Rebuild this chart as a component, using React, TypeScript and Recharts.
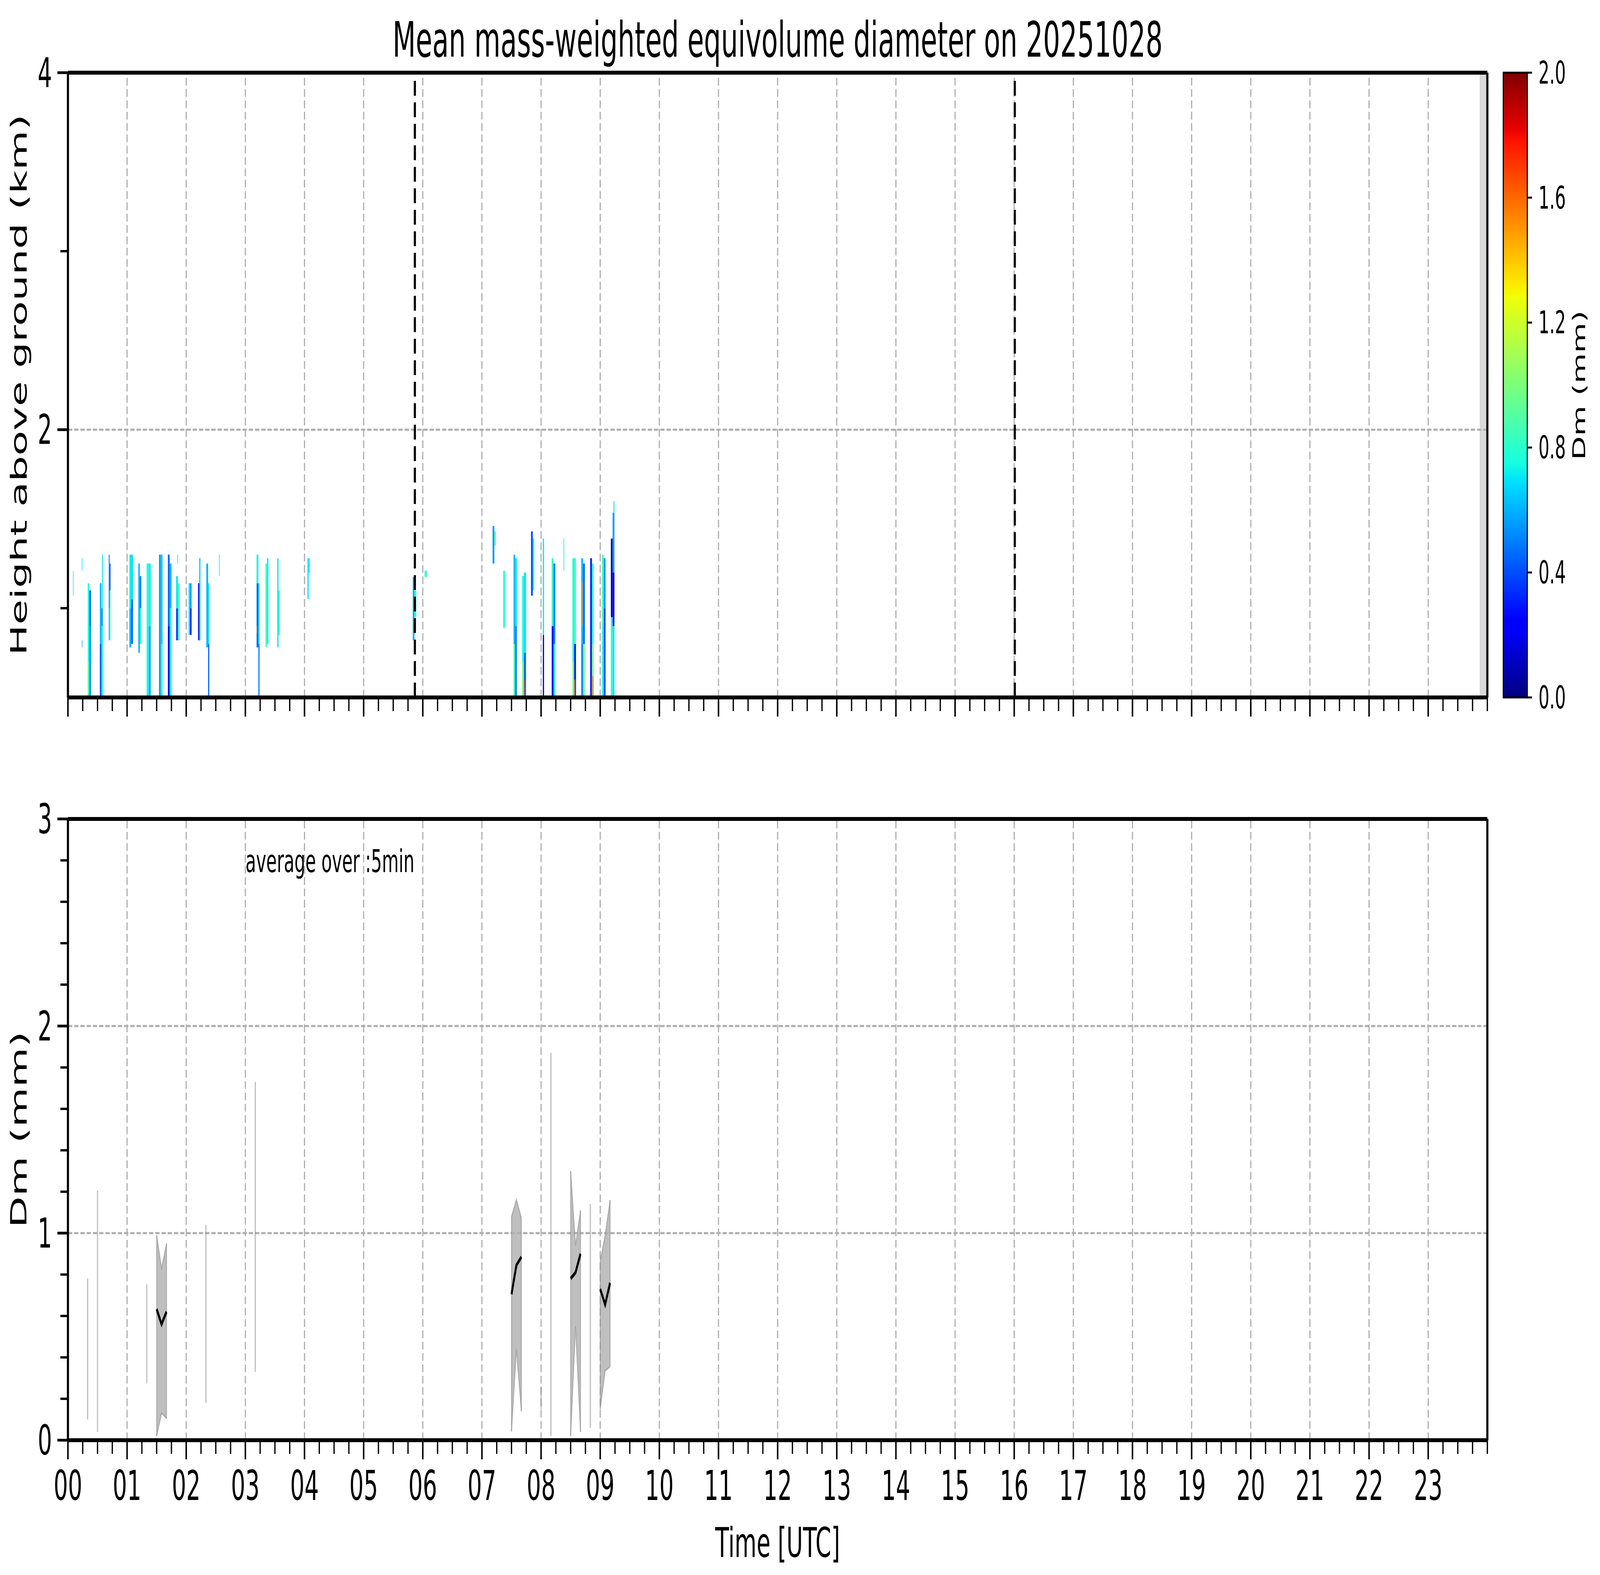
import React from 'react';
import { ComposedChart, XAxis, YAxis, ReferenceArea, ReferenceLine, Line, Area } from 'recharts';

const FONT = '"DejaVu Sans", "Liberation Sans", sans-serif';

// x axis: hours of the day
const HOURS = [0, 1, 2, 3, 4, 5, 6, 7, 8, 9, 10, 11, 12, 13, 14, 15, 16, 17, 18, 19, 20, 21, 22, 23];
const HOUR_LABELS = ['00', '01', '02', '03', '04', '05', '06', '07', '08', '09', '10', '11',
  '12', '13', '14', '15', '16', '17', '18', '19', '20', '21', '22', '23'];
const QUARTER_TICKS = [...HOURS.flatMap(h => [h, h + 0.25, h + 0.5, h + 0.75]), 24];

const HEIGHT_TICKS = [1, 2, 3, 4];
const HEIGHT_MAJOR = [2, 4];
const DM_TICKS = [0, 0.2, 0.4, 0.6, 0.8, 1, 1.2, 1.4, 1.6, 1.8, 2, 2.2, 2.4, 2.6, 2.8, 3];
const DM_MAJOR = [0, 1, 2, 3];
const CBAR_TICKS = [0, 0.4, 0.8, 1.2, 1.6, 2.0];

// event markers (hours) and the missing-data strip at the end of the day
const EVENT_LINES = [5.866, 16.01];
const MISSING_FROM = 23.87;

// heatmap cells: [t0 (h), t1 (h), bottom (km), top (km), Dm (mm)]
type CellRow = [number, number, number, number, number];
const EARLY_CELLS: CellRow[] = [
  [0.085, 0.095, 1.07, 1.21, 0.72],
  [0.235, 0.245, 1.21, 1.28, 0.7],
  [0.235, 0.245, 0.78, 0.82, 0.6],
  [0.335, 0.36, 0.5, 0.7, 0.9],
  [0.335, 0.36, 0.7, 1.14, 0.75],
  [0.36, 0.39, 0.5, 0.9, 0.55],
  [0.36, 0.39, 0.9, 1.1, 0.45],
  [0.54, 0.565, 0.5, 0.8, 0.4],
  [0.54, 0.565, 0.8, 1.14, 0.6],
  [0.565, 0.59, 0.5, 0.9, 0.72],
  [0.565, 0.59, 0.9, 1.0, 0.55],
  [0.575, 0.59, 1.0, 1.3, 0.7],
  [0.69, 0.705, 0.82, 1.0, 0.6],
  [0.69, 0.705, 1.0, 1.3, 0.5],
  [0.705, 0.72, 0.82, 1.1, 0.85],
  [0.705, 0.72, 1.1, 1.25, 0.4],
  [1.04, 1.07, 0.78, 1.0, 0.6],
  [1.04, 1.07, 1.0, 1.3, 0.72],
  [1.07, 1.1, 0.8, 1.05, 0.45],
  [1.07, 1.1, 1.05, 1.3, 0.7],
  [1.19, 1.215, 0.75, 1.25, 0.6],
  [1.215, 1.24, 0.8, 1.0, 0.8],
  [1.215, 1.24, 1.0, 1.18, 0.5],
  [1.33, 1.365, 0.5, 1.25, 0.78],
  [1.365, 1.4, 0.5, 0.9, 0.6],
  [1.365, 1.4, 0.9, 1.25, 0.72],
  [1.54, 1.57, 0.5, 1.3, 0.55],
  [1.57, 1.6, 0.5, 0.8, 0.8],
  [1.57, 1.6, 0.8, 1.3, 0.65],
  [1.69, 1.72, 0.5, 0.9, 0.25],
  [1.69, 1.72, 0.9, 1.3, 0.45],
  [1.72, 1.75, 0.5, 1.0, 0.75],
  [1.72, 1.75, 1.0, 1.25, 0.6],
  [1.83, 1.86, 0.82, 1.0, 0.35],
  [1.83, 1.86, 1.0, 1.18, 0.7],
  [1.86, 1.89, 0.82, 1.14, 0.85],
  [1.85, 1.86, 1.25, 1.3, 0.7],
  [2.04, 2.065, 0.85, 1.14, 0.7],
  [2.065, 2.09, 0.85, 1.0, 0.3],
  [2.065, 2.09, 1.0, 1.14, 0.55],
  [2.2, 2.22, 0.82, 1.14, 0.3],
  [2.22, 2.24, 0.82, 1.28, 0.65],
  [2.34, 2.37, 0.78, 1.25, 0.6],
  [2.37, 2.39, 0.5, 0.8, 0.45],
  [2.37, 2.39, 0.8, 1.14, 0.72],
  [2.555, 2.565, 1.18, 1.3, 0.7],
  [3.19, 3.22, 0.78, 1.14, 0.45],
  [3.19, 3.22, 1.14, 1.3, 0.72],
  [3.195, 3.205, 0.86, 0.9, 1.6],
  [3.22, 3.24, 0.5, 0.8, 0.5],
  [3.22, 3.24, 0.8, 1.14, 0.7],
  [3.34, 3.365, 0.78, 1.25, 0.85],
  [3.365, 3.39, 0.8, 1.28, 0.72],
  [3.54, 3.56, 0.78, 1.28, 0.7],
  [3.56, 3.58, 0.85, 1.1, 0.8],
  [4.05, 4.07, 1.05, 1.28, 0.7],
  [4.07, 4.09, 1.2, 1.28, 0.72],
];

const LATE_CELLS: CellRow[] = [
  [5.83, 5.86, 0.82, 1.175, 0.6],
  [5.86, 5.89, 0.95, 1.1, 0.85],
  [6.03, 6.07, 1.175, 1.21, 0.8],
  [7.18, 7.21, 1.25, 1.46, 0.55],
  [7.21, 7.235, 1.35, 1.43, 0.9],
  [7.36, 7.39, 0.89, 1.21, 0.75],
  [7.535, 7.56, 0.5, 0.8, 0.85],
  [7.535, 7.56, 0.8, 1.3, 0.6],
  [7.56, 7.59, 0.5, 0.9, 0.5],
  [7.56, 7.59, 0.9, 1.28, 0.7],
  [7.68, 7.71, 0.5, 0.7, 1.0],
  [7.68, 7.71, 0.7, 1.18, 0.75],
  [7.71, 7.745, 0.5, 0.75, 0.45],
  [7.71, 7.745, 0.75, 1.2, 0.7],
  [7.72, 7.73, 0.5, 0.6, 1.7],
  [7.83, 7.86, 1.07, 1.43, 0.4],
  [7.86, 7.885, 1.1, 1.39, 0.85],
  [8.03, 8.05, 0.5, 0.85, 0.1],
  [8.03, 8.05, 0.85, 1.39, 0.7],
  [8.18, 8.21, 0.5, 0.9, 0.25],
  [8.18, 8.21, 0.9, 1.28, 0.8],
  [8.21, 8.24, 0.5, 0.8, 0.8],
  [8.21, 8.24, 0.8, 1.25, 0.5],
  [8.38, 8.39, 1.21, 1.39, 0.7],
  [8.53, 8.56, 0.5, 0.7, 1.0],
  [8.53, 8.56, 0.7, 1.28, 0.75],
  [8.56, 8.59, 0.5, 0.8, 0.3],
  [8.56, 8.59, 0.8, 1.28, 0.85],
  [8.565, 8.575, 0.5, 0.6, 1.5],
  [8.68, 8.71, 0.5, 0.8, 0.5],
  [8.68, 8.71, 0.8, 1.28, 0.6],
  [8.695, 8.703, 0.9, 1.15, 1.45],
  [8.71, 8.74, 0.5, 0.8, 1.0],
  [8.71, 8.74, 0.8, 1.25, 0.45],
  [8.83, 8.86, 0.5, 1.28, 0.3],
  [8.86, 8.89, 0.5, 0.8, 1.0],
  [8.86, 8.89, 0.8, 1.25, 0.8],
  [8.87, 8.88, 0.5, 0.62, 1.7],
  [9.03, 9.06, 0.5, 0.9, 0.75],
  [9.03, 9.06, 0.9, 1.3, 0.85],
  [9.06, 9.09, 0.5, 1.0, 0.4],
  [9.06, 9.09, 1.0, 1.28, 0.55],
  [9.18, 9.21, 0.5, 0.95, 0.8],
  [9.18, 9.21, 0.95, 1.39, 0.15],
  [9.21, 9.24, 0.5, 0.9, 0.7],
  [9.21, 9.24, 0.9, 1.2, 0.2],
  [9.21, 9.24, 1.2, 1.535, 0.55],
  [9.225, 9.24, 1.535, 1.6, 0.7],
];

// 5-min averages (bottom panel)
const AVG_TIME = [1.5, 1.583, 1.667, 7.5, 7.583, 7.667, 8.5, 8.583, 8.667, 9.0, 9.083, 9.167];
const AVG_DM = [0.633, 0.56, 0.62, 0.705, 0.845, 0.885, 0.78, 0.81, 0.9, 0.73, 0.655, 0.76];
const MIN_DM = [0.02, 0.13, 0.105, 0.043, 0.437, 0.14, 0.02, 0.55, 0.04, 0.15, 0.335, 0.355];
const MAX_DM = [0.99, 0.83, 0.95, 1.08, 1.162, 1.073, 1.3, 0.94, 1.11, 0.864, 0.99, 1.16];

// isolated 5-min spreads (single samples)
const SPIKE_TIME = [0.333, 0.5, 1.333, 2.333, 3.167, 8.0, 8.167, 8.833];
const SPIKE_MIN = [0.1, 0.04, 0.275, 0.18, 0.33, 0.15, 0.02, 0.06];
const SPIKE_MAX = [0.78, 1.205, 0.753, 1.04, 1.73, 0.26, 1.87, 1.14];

// matplotlib 'jet'
const JET_R = [[0, 0], [0.35, 0], [0.66, 1], [0.89, 1], [1, 0.5]];
const JET_G = [[0, 0], [0.125, 0], [0.375, 1], [0.64, 1], [0.91, 0], [1, 0]];
const JET_B = [[0, 0.5], [0.11, 1], [0.34, 1], [0.65, 0], [1, 0]];
const JET_STOPS = [0, 0.11, 0.125, 0.34, 0.35, 0.375, 0.5, 0.64, 0.65, 0.66, 0.89, 0.91, 1];

function interp(pts: number[][], x: number) {
  for (let i = 1; i < pts.length; i++) {
    if (x <= pts[i][0]) {
      const [x0, y0] = pts[i - 1];
      const [x1, y1] = pts[i];
      return y0 + (y1 - y0) * (x - x0) / (x1 - x0);
    }
  }
  return pts[pts.length - 1][1];
}

function jetAt(f: number) {
  const x = Math.min(1, Math.max(0, f));
  const c = (v: number) => Math.round(v * 255);
  return `rgb(${c(interp(JET_R, x))},${c(interp(JET_G, x))},${c(interp(JET_B, x))})`;
}

const dmColor = (dm: number) => jetAt(dm / 2);

const GRID = '#b0b0b0';
const GRID_DASH = '20 9';
const SPINE = 10;

const PAGE_W = 7442;
const PAGE_H = 4031;
const PLOT_LEFT = 316;
const CHART_W = 7000;
const MARGIN_RIGHT = 82;

if (typeof document !== 'undefined') {
  document.documentElement.style.margin = '0';
  document.documentElement.style.overflow = 'hidden';
  document.body.style.margin = '0';
  document.body.style.overflow = 'hidden';
}

// the figure is laid out at 7442x4031 and stretched onto whatever viewport we get
function fitScale() {
  if (typeof window === 'undefined') return { sx: 1, sy: 1 };
  const w = window.innerWidth || PAGE_W;
  const h = window.innerHeight || PAGE_H;
  return { sx: w / PAGE_W, sy: h / PAGE_H };
}

function TimeTick(props: any) {
  const { x, y, payload, showLabel } = props;
  const v = payload.value;
  const major = Math.abs(v - Math.round(v)) < 1e-6 && v < 24;
  return (
    <g>
      <line x1={x} x2={x} y1={y} y2={y + (major ? 49 : 35)} stroke="#000" strokeWidth={major ? 7 : 6} />
      {showLabel && major && (
        <text x={x} y={y + 153} textAnchor="middle" fontSize={105} fontFamily={FONT} fill="#000">
          {HOUR_LABELS[Math.round(v)]}
        </text>
      )}
    </g>
  );
}

function LeftTick(props: any) {
  const { x, y, payload, majors } = props;
  const v = payload.value;
  const major = majors.some((m: number) => Math.abs(m - v) < 1e-6);
  return (
    <g>
      <line x1={x - (major ? 49 : 35)} x2={x} y1={y} y2={y} stroke="#000" strokeWidth={major ? 7 : 6} />
      {major && (
        <text x={x - 74} y={y} textAnchor="end" dominantBaseline="central" fontSize={105} fontFamily={FONT} fill="#000">
          {v}
        </text>
      )}
    </g>
  );
}

function CbarTick(props: any) {
  const { x, y, payload } = props;
  return (
    <g>
      <line x1={x} x2={x + 22} y1={y} y2={y} stroke="#000" strokeWidth={5} />
      <text x={x + 52} y={y} textAnchor="start" dominantBaseline="central" fontSize={80} fontFamily={FONT} fill="#000">
        {payload.value.toFixed(1)}
      </text>
    </g>
  );
}

function HeightPanel() {
  const cells = [...EARLY_CELLS, ...LATE_CELLS];
  const dummy = [{ t: 0, h: 0.5 }, { t: 24, h: 0.5 }];
  return (
    <div style={{ position: 'absolute', left: 0, top: 0 }}>
      <ComposedChart width={CHART_W} height={1845} data={dummy}
        margin={{ top: 186, right: MARGIN_RIGHT, bottom: 0, left: 0 }}>
        <XAxis dataKey="t" type="number" domain={[0, 24]} ticks={QUARTER_TICKS} interval={0}
          allowDataOverflow height={60} tickSize={0} tickMargin={0} tickLine={false}
          axisLine={{ stroke: '#000', strokeWidth: SPINE }}
          tick={(p: any) => <TimeTick {...p} showLabel={false} />} />
        <YAxis type="number" domain={[0.5, 4]} ticks={HEIGHT_TICKS} interval={0} allowDataOverflow
          width={PLOT_LEFT} tickSize={0} tickMargin={0} tickLine={false}
          axisLine={{ stroke: '#000', strokeWidth: SPINE }}
          tick={(p: any) => <LeftTick {...p} majors={HEIGHT_MAJOR} />} />
        {HOURS.slice(1).map(h => (
          <ReferenceLine key={'g' + h} x={h} stroke={GRID} strokeWidth={5.5} strokeDasharray={GRID_DASH} />
        ))}
        <ReferenceLine y={2} stroke={GRID} strokeWidth={5.5} strokeDasharray={GRID_DASH} />
        {cells.map((c, i) => (
          <ReferenceArea key={'c' + i} x1={c[0]} x2={c[1]} y1={c[2]} y2={c[3]}
            fill={dmColor(c[4])} fillOpacity={1} stroke="none" />
        ))}
        <ReferenceArea x1={MISSING_FROM} x2={24} y1={0.5} y2={4} fill="#d9d9d9" fillOpacity={1} stroke="none" />
        {EVENT_LINES.map(t => (
          <ReferenceLine key={'e' + t} x={t} stroke="#000" strokeWidth={10} strokeDasharray="38 17" />
        ))}
        <Line dataKey="h" stroke="none" dot={false} isAnimationActive={false} />
        <ReferenceLine y={4} stroke="#000" strokeWidth={SPINE} />
        <ReferenceLine x={24} stroke="#000" strokeWidth={SPINE} />
      </ComposedChart>
    </div>
  );
}

function DmPanel() {
  const rows: any[] = [];
  AVG_TIME.forEach((t, i) => {
    if (i > 0 && t - AVG_TIME[i - 1] > 0.1) {
      rows.push({ t: (t + AVG_TIME[i - 1]) / 2, band: null, lo: null, hi: null, dm: null });
    }
    rows.push({ t, band: [MIN_DM[i], MAX_DM[i]], lo: MIN_DM[i], hi: MAX_DM[i], dm: AVG_DM[i] });
  });
  // vertical ends of each averaged block
  const ends: number[] = [];
  AVG_TIME.forEach((t, i) => {
    const first = i === 0 || t - AVG_TIME[i - 1] > 0.1;
    const last = i === AVG_TIME.length - 1 || AVG_TIME[i + 1] - t > 0.1;
    if (first || last) ends.push(i);
  });
  const edge = { stroke: '#808080', strokeOpacity: 0.5 };
  return (
    <div style={{ position: 'absolute', left: 0, top: 1900 }}>
      <ComposedChart width={CHART_W} height={1986} data={rows}
        margin={{ top: 196, right: MARGIN_RIGHT, bottom: 0, left: 0 }}>
        <XAxis dataKey="t" type="number" domain={[0, 24]} ticks={QUARTER_TICKS} interval={0}
          allowDataOverflow height={200} tickSize={0} tickMargin={0} tickLine={false}
          axisLine={{ stroke: '#000', strokeWidth: SPINE }}
          tick={(p: any) => <TimeTick {...p} showLabel />} />
        <YAxis type="number" domain={[0, 3]} ticks={DM_TICKS} interval={0} allowDataOverflow
          width={PLOT_LEFT} tickSize={0} tickMargin={0} tickLine={false}
          axisLine={{ stroke: '#000', strokeWidth: SPINE }}
          tick={(p: any) => <LeftTick {...p} majors={DM_MAJOR} />} />
        {HOURS.slice(1).map(h => (
          <ReferenceLine key={'g' + h} x={h} stroke={GRID} strokeWidth={5.5} strokeDasharray={GRID_DASH} />
        ))}
        <ReferenceLine y={1} stroke={GRID} strokeWidth={5.5} strokeDasharray={GRID_DASH} />
        <ReferenceLine y={2} stroke={GRID} strokeWidth={5.5} strokeDasharray={GRID_DASH} />
        {SPIKE_TIME.map((t, i) => (
          <ReferenceLine key={'s' + i} segment={[{ x: t, y: SPIKE_MIN[i] }, { x: t, y: SPIKE_MAX[i] }]}
            {...edge} strokeWidth={5.5} />
        ))}
        <Area dataKey="band" type="linear" stroke="none" fill="#808080" fillOpacity={0.5}
          connectNulls={false} isAnimationActive={false} />
        <Line dataKey="hi" type="linear" {...edge} strokeWidth={4.5} dot={false} connectNulls={false} isAnimationActive={false} />
        <Line dataKey="lo" type="linear" {...edge} strokeWidth={4.5} dot={false} connectNulls={false} isAnimationActive={false} />
        {ends.map(i => (
          <ReferenceLine key={'v' + i} segment={[{ x: AVG_TIME[i], y: MIN_DM[i] }, { x: AVG_TIME[i], y: MAX_DM[i] }]}
            {...edge} strokeWidth={4.5} />
        ))}
        <Line dataKey="dm" type="linear" stroke="#000" strokeWidth={9} dot={false} connectNulls={false} isAnimationActive={false} />
        <ReferenceLine y={3} stroke="#000" strokeWidth={SPINE} />
        <ReferenceLine x={24} stroke="#000" strokeWidth={SPINE} />
      </ComposedChart>
    </div>
  );
}

function Colorbar() {
  const dummy = [{ x: 0, v: 0 }, { x: 1, v: 2 }];
  return (
    <div style={{ position: 'absolute', left: 6900, top: 0 }}>
      <ComposedChart width={504} height={1885} data={dummy}
        margin={{ top: 186, right: 0, bottom: 100, left: 92 }}>
        <defs>
          <linearGradient id="jetGrad" x1="0" y1="1" x2="0" y2="0">
            {JET_STOPS.map(s => <stop key={s} offset={s} stopColor={jetAt(s)} />)}
          </linearGradient>
        </defs>
        <XAxis dataKey="x" type="number" domain={[0, 1]} hide />
        <YAxis orientation="right" type="number" domain={[0, 2]} ticks={CBAR_TICKS} interval={0}
          width={300} tickSize={0} tickMargin={0} tickLine={false} axisLine={false}
          tick={(p: any) => <CbarTick {...p} />} />
        <ReferenceArea x1={0} x2={1} y1={0} y2={2} fill="url(#jetGrad)" fillOpacity={1}
          stroke="#000" strokeWidth={5} />
        <Line dataKey="v" stroke="none" dot={false} isAnimationActive={false} />
      </ComposedChart>
    </div>
  );
}

function Texts() {
  return (
    <svg width={PAGE_W} height={PAGE_H} style={{ position: 'absolute', left: 0, top: 0, pointerEvents: 'none' }}
      fontFamily={FONT}>
      <text x={3617} y={145} textAnchor="middle" fontSize={125}>
        Mean mass-weighted equivolume diameter on 20251028
      </text>
      <text x={124} y={985} textAnchor="middle" fontSize={105} transform="rotate(-90 124 985)">
        Height above ground (km)
      </text>
      <text x={124} y={2891} textAnchor="middle" fontSize={105} transform="rotate(-90 124 2891)">
        Dm (mm)
      </text>
      <text x={3617} y={3985} textAnchor="middle" fontSize={105}>Time [UTC]</text>
      <text x={1142} y={2232} textAnchor="start" fontSize={80}>average over :5min</text>
      <text x={7373} y={986} textAnchor="middle" fontSize={80} transform="rotate(-90 7373 986)">
        Dm (mm)
      </text>
    </svg>
  );
}

export default function App() {
  const [scale, setScale] = React.useState(fitScale);
  React.useEffect(() => {
    const onResize = () => setScale(fitScale());
    window.addEventListener('resize', onResize);
    return () => window.removeEventListener('resize', onResize);
  }, []);
  const { sx, sy } = scale;
  return (
    <div style={{ position: 'relative', width: PAGE_W * sx, height: PAGE_H * sy, overflow: 'hidden', background: '#fff' }}>
      <div style={{
        position: 'absolute', left: 0, top: 0, width: PAGE_W, height: PAGE_H,
        transform: `scale(${sx}, ${sy})`, transformOrigin: '0 0', background: '#fff',
      }}>
        <HeightPanel />
        <DmPanel />
        <Colorbar />
        <Texts />
      </div>
    </div>
  );
}
